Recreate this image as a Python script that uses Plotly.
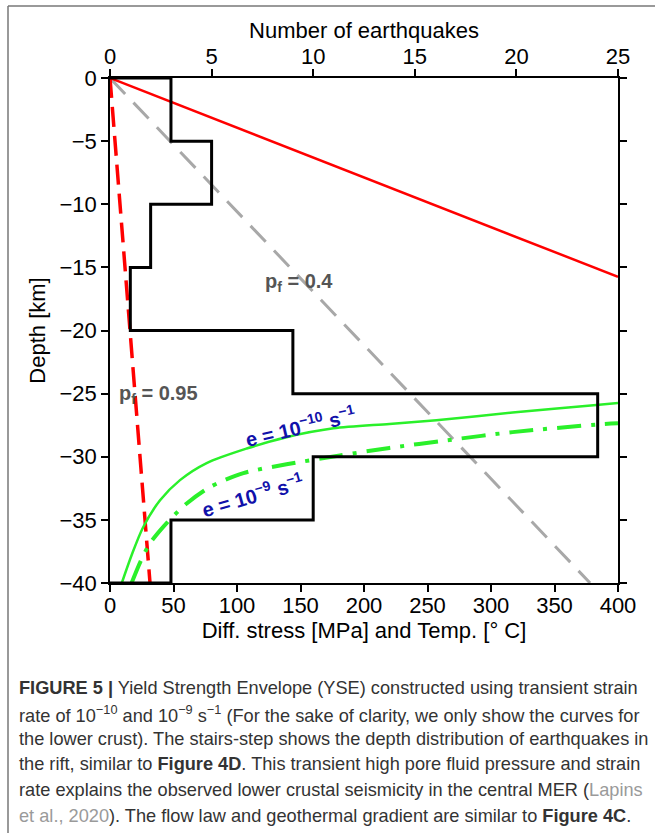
import plotly.graph_objects as go

# ---------------- data ----------------
depth_edges = [0, -5, -10, -15, -20, -25, -30, -35, -40]
eq_counts = [3, 5, 2, 1, 9, 24, 10, 3]

temp_stress = [0, 400]
temp_depth = [0, -15.75]

pf04_stress = [0, 378]
pf04_depth = [0, -40]

pf095_stress = [0, 31.5]
pf095_depth = [0, -40]

e10_stress = [9.3, 17, 26, 39.4, 55.1, 76.1, 107.6, 139, 176, 220, 257, 317, 383, 400]
e10_depth = [-40, -37.8, -35.6, -33.45, -31.85, -30.5, -29.35, -28.45, -27.75, -27.4, -27.1, -26.5, -25.9, -25.75]

e9_stress = [17, 24, 31.5, 44.6, 60.4, 78.7, 105, 139, 181, 220, 265, 317, 383, 400]
e9_depth = [-40, -38.3, -36.85, -35.25, -33.7, -32.4, -31.3, -30.6, -29.9, -29.3, -28.7, -28.05, -27.45, -27.35]

bottom_ticks = [0, 50, 100, 150, 200, 250, 300, 350, 400]
top_ticks = [0, 5, 10, 15, 20, 25]
depth_ticks = [0, -5, -10, -15, -20, -25, -30, -35, -40]

caption_lines = [
    "<b>FIGURE 5 |</b> Yield Strength Envelope (YSE) constructed using transient strain",
    "rate of 10<sup>−10</sup> and 10<sup>−9</sup> s<sup>−1</sup> (For the sake of clarity, we only show the curves for",
    "the lower crust). The stairs-step shows the depth distribution of earthquakes in",
    "the rift, similar to <b>Figure 4D</b>. This transient high pore fluid pressure and strain",
    "rate explains the observed lower crustal seismicity in the central MER (<span style='color:#9a9a9a'>Lapins</span>",
    "<span style='color:#9a9a9a'>et al., 2020</span>). The flow law and geothermal gradient are similar to <b>Figure 4C</b>.",
]

# ---------------- layout geometry ----------------
W, H = 655, 833
L, R, T, B = 110, 618, 78, 583


def px(x):
    return (x - L) / (R - L)


def py(y):
    return (B - y) / (B - T)


# stair-step from the counts
stair_x, stair_y = [0], [depth_edges[0]]
for i, c in enumerate(eq_counts):
    stair_x += [c, c]
    stair_y += [depth_edges[i], depth_edges[i + 1]]
stair_x.append(0)
stair_y.append(depth_edges[-1])

FONT = "Liberation Sans, Arial, Helvetica, sans-serif"

fig = go.Figure()

fig.add_trace(go.Scatter(x=stair_x, y=stair_y, xaxis="x2", yaxis="y", mode="lines",
                         line=dict(color="black", width=3), showlegend=False))
fig.add_trace(go.Scatter(x=pf04_stress, y=pf04_depth, mode="lines",
                         line=dict(color="#a8a8a8", width=3, dash="22px,12px"), showlegend=False))
fig.add_trace(go.Scatter(x=temp_stress, y=temp_depth, mode="lines",
                         line=dict(color="#ff0000", width=2.5), showlegend=False))
fig.add_trace(go.Scatter(x=pf095_stress, y=pf095_depth, mode="lines",
                         line=dict(color="#ff0000", width=3.5, dash="20px,9px"), showlegend=False))
fig.add_trace(go.Scatter(x=e10_stress, y=e10_depth, mode="lines", line_shape="spline",
                         line=dict(color="#2af02a", width=2.5, smoothing=0.8), showlegend=False))
fig.add_trace(go.Scatter(x=e9_stress, y=e9_depth, mode="lines", line_shape="spline",
                         line=dict(color="#2af02a", width=4, dash="24px,10px,4px,10px", smoothing=0.8),
                         showlegend=False))

axis_common = dict(showline=True, linecolor="black", linewidth=1.5, ticks="outside",
                   ticklen=7, tickwidth=1.5, tickcolor="black", showgrid=False, zeroline=False,
                   tickfont=dict(family=FONT, size=22, color="black"))

fig.update_layout(
    width=W, height=H,
    margin=dict(l=L, r=W - R, t=T, b=H - B, autoexpand=False),
    paper_bgcolor="white", plot_bgcolor="white",
    font=dict(family=FONT, color="black"),
    xaxis=dict(range=[0, 400], tickvals=bottom_ticks, side="bottom", ticklabelstandoff=-5,
               title=dict(text="Diff. stress [MPa] and Temp. [° C]", standoff=0,
                          font=dict(family=FONT, size=22, color="black")),
               **axis_common),
    xaxis2=dict(range=[0, 25], tickvals=top_ticks, side="top", overlaying="x", ticklabelstandoff=-4,
                title=dict(text="Number of earthquakes", standoff=0,
                           font=dict(family=FONT, size=22, color="black")),
                **axis_common),
    yaxis=dict(range=[-40, 0], tickvals=depth_ticks, mirror="ticks",
               ticktext=[("−" + str(-v)) if v < 0 else str(v) for v in depth_ticks],
               title=dict(text="Depth [km]", standoff=8,
                          font=dict(family=FONT, size=22, color="black")),
               **axis_common),
)

# in-plot labels
fig.add_annotation(x=149, y=-16.16, text="<b>p<sub>f</sub> = 0.4</b>", showarrow=False,
                   font=dict(family=FONT, size=20, color="#555555"))
fig.add_annotation(x=37.8, y=-25.1, text="<b>p<sub>f</sub> = 0.95</b>", showarrow=False,
                   font=dict(family=FONT, size=20, color="#555555"))
fig.add_annotation(x=150, y=-27.55, text="<b>e = 10<sup>−10</sup> s<sup>−1</sup></b>", showarrow=False,
                   textangle=-13, font=dict(family=FONT, size=20, color="#1111aa"))
fig.add_annotation(x=112, y=-33.0, text="<b>e = 10<sup>−9</sup> s<sup>−1</sup></b>", showarrow=False,
                   textangle=-16, font=dict(family=FONT, size=20, color="#1111aa"))

# caption
cap_y = [688, 713.5, 739, 764.5, 790, 815.5]
for txt, yy in zip(caption_lines, cap_y):
    fig.add_annotation(xref="paper", yref="paper", x=px(17), y=py(yy), xanchor="left", yanchor="middle",
                       text=txt, showarrow=False, align="left",
                       font=dict(family=FONT, size=18.2, color="#333333"))

# figure frame (gray border)
fig.add_shape(type="line", xref="paper", yref="paper", x0=px(8), x1=px(8), y0=py(6), y1=py(840),
              line=dict(color="#777777", width=1.5))
fig.add_shape(type="line", xref="paper", yref="paper", x0=px(8), x1=px(660), y0=py(6), y1=py(6),
              line=dict(color="#777777", width=1.5))

fig.write_html("out.html")
